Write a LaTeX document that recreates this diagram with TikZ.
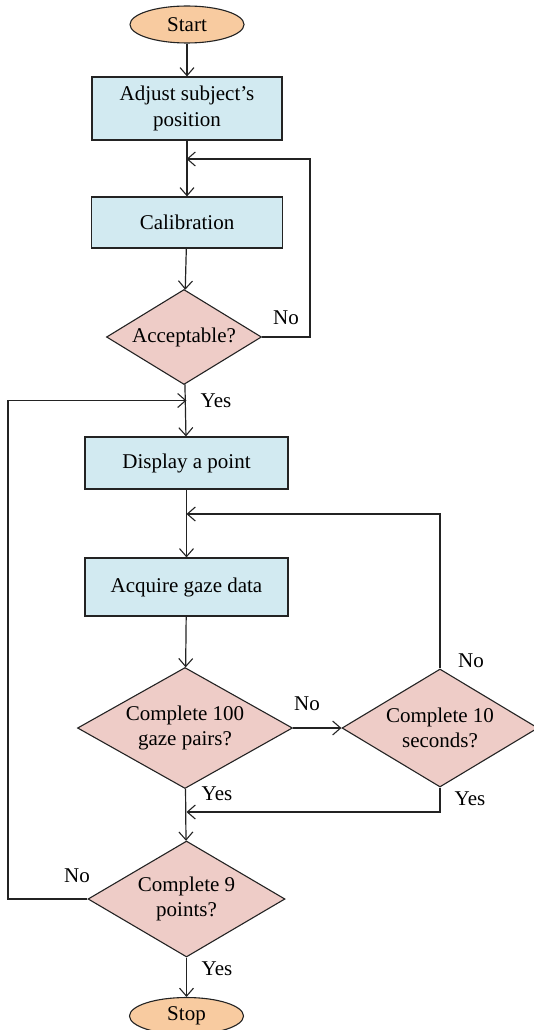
\documentclass[tikz,border=0pt]{standalone}
\usepackage{fontspec}
\setmainfont{Liberation Serif}
\usetikzlibrary{shapes.geometric,arrows.meta}
\definecolor{boxfill}{RGB}{210,234,241}
\definecolor{decfill}{RGB}{238,204,199}
\definecolor{termfill}{RGB}{248,203,160}
\definecolor{edge}{RGB}{35,35,35}
\tikzset{
  every node/.style={font=\fontsize{21}{25}\selectfont, text=black},
  procbox/.style={draw=edge, line width=1.2pt, fill=boxfill, rectangle, inner sep=0pt, align=center},
  % fixed-size diamond; its question is set as a centred label so it never enlarges the shape
  decision/.style={draw=edge, line width=1.1pt, fill=decfill, diamond, inner sep=0pt,
                   label={[align=center, inner sep=0pt]center:#1}},
  terminal/.style={draw=edge, line width=1.1pt, fill=termfill, ellipse, inner sep=0pt,
                   minimum width=114pt, minimum height=37pt},
  flow/.style={draw=edge, line width=1.2pt},
  arr/.style={flow, -{Straight Barb[length=8pt,width=14pt,line width=1.1pt]}},
  lbl/.style={inner sep=0pt}
}
\begin{document}
\begin{tikzpicture}[x=1pt,y=-1pt]
\useasboundingbox (0,0) rectangle (534,1030);

% nodes
\node[terminal] (start) at (187,24.5) {Start};
\node[procbox, minimum width=190pt, minimum height=63pt] (adjust) at (187,108.5) {Adjust subject's\\[1pt]position};
\node[procbox, minimum width=191pt, minimum height=51pt] (calib) at (187,222.5) {Calibration};
\node[decision={Acceptable?}, minimum width=155pt, minimum height=95pt] (acc) at (184,337) {};
\node[procbox, minimum width=203pt, minimum height=52pt] (disp) at (186.5,463) {Display a point};
\node[procbox, minimum width=203pt, minimum height=58pt] (acq) at (186.5,587) {Acquire gaze data};
\node[decision={Complete 100\\gaze pairs?}, minimum width=215pt, minimum height=121pt] (c100) at (185,728) {};
\node[decision={Complete 10\\seconds?}, minimum width=196pt, minimum height=118pt] (c10) at (440,728) {};
\node[decision={Complete 9\\points?}, minimum width=197pt, minimum height=116pt] (c9) at (186.5,899) {};
\node[terminal] (stop) at (186.5,1016) {Stop};

% junction points on the main line
\coordinate (j1) at (186.5,159);
\coordinate (r1) at (310,159);
\coordinate (j2) at (186.5,400.5);
\coordinate (l2) at (8,400.5);
\coordinate (j3) at (186.5,514);
\coordinate (r3) at (440,514);
\coordinate (j4) at (186.5,812);
\coordinate (r4) at (440,812);

% main column
\draw[arr] (start) -- (adjust);
\draw[arr] (adjust) -- (calib);
\draw[arr] (calib) -- (acc);
\draw[arr] (acc) -- (disp);
\draw[arr] (disp) -- (acq);
\draw[arr] (acq) -- (c100);
\draw[arr] (c100) -- (c9);
\draw[arr] (c9) -- (stop);
\draw[arr] (c100) -- (c10);

% loops back into the main column
\draw[arr] (acc.east) -| (r1) -- (j1);
\draw[arr] (c9.west) -| (l2) -- (j2);
\draw[arr] (c10.north) |- (r3) -- (j3);
\draw[arr] (c10.south) |- (r4) -- (j4);

% branch labels
\node[lbl] at (286,318) {No};
\node[lbl] at (216,401) {Yes};
\node[lbl] at (307,704) {No};
\node[lbl] at (471,661) {No};
\node[lbl] at (217,794) {Yes};
\node[lbl] at (470,799) {Yes};
\node[lbl] at (77,876) {No};
\node[lbl] at (217,969) {Yes};
\end{tikzpicture}
\end{document}
